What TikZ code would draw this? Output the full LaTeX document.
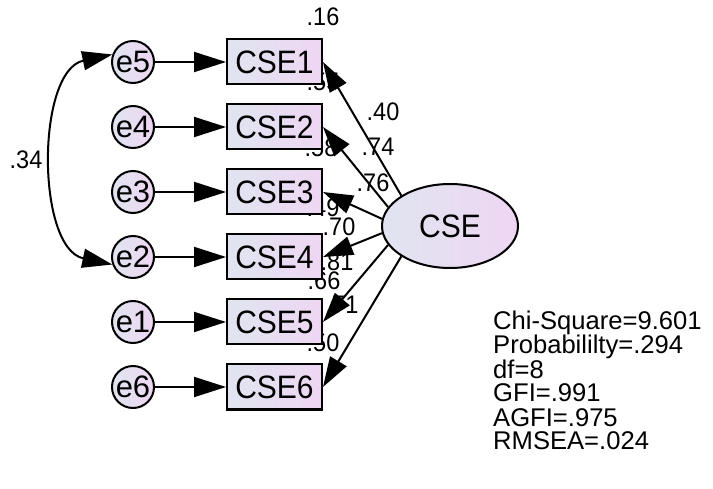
\documentclass[tikz,border=0pt]{standalone}
\usepackage{fontspec}
\setmainfont{Liberation Sans}
\usetikzlibrary{arrows.meta,shapes.geometric}
\definecolor{fillL}{RGB}{224,229,240}
\definecolor{fillR}{RGB}{238,214,243}
% slightly taller lettering
\newcommand\vst[1]{\scalebox{1}[1.08]{#1}}
\begin{document}
\begin{tikzpicture}[x=1pt,y=1pt,
  obs/.style={draw, line width=2pt, rectangle, minimum width=95pt, minimum height=45pt,
    inner sep=0pt, left color=fillL, right color=fillR, font=\fontsize{30}{30}\selectfont},
  err/.style={draw, line width=2pt, circle, minimum size=42pt, inner sep=0pt,
    left color=fillL, right color=fillR, font=\fontsize{31}{31}\selectfont},
  lat/.style={draw, line width=2pt, ellipse, minimum width=136pt, minimum height=84pt,
    inner sep=0pt, left color=fillL, right color=fillR, font=\fontsize{30}{30}\selectfont},
  lbl/.style={font=\fontsize{23.5}{23.5}\selectfont, inner sep=0pt},
  fitline/.style={font=\fontsize{25.6}{25.6}\selectfont, anchor=base west, inner sep=0pt},
  regarrow/.style={line width=2pt, -{Triangle[length=30pt,width=19pt]}},
  errarrow/.style={line width=2pt, -{Triangle[length=32pt,width=20pt]}},
  covarrow/.style={line width=2pt, {Triangle[length=30pt,width=19pt]}-{Triangle[length=30pt,width=19pt]}},
]
\useasboundingbox (0,0) rectangle (713,488);

% squared multiple correlations
\node[lbl] (r1) at (323,471) {\vst{.16}};
\node[lbl] (r2) at (323,406) {\vst{.55}};
\node[lbl] (r3) at (321,340) {\vst{.58}};
\node[lbl] (r4) at (323,280) {\vst{.49}};
\node[lbl] (r5) at (324,207) {\vst{.66}};
\node[lbl] (r6) at (323,145) {\vst{.50}};

% standardized loadings
\node[lbl] (w1) at (383,376) {\vst{.40}};
\node[lbl] (w2) at (378,341) {\vst{.74}};
\node[lbl] (w3) at (373,305) {\vst{.76}};
\node[lbl] (w4) at (339,261) {\vst{.70}};
\node[lbl] (w5) at (337,226) {\vst{.81}};
\node[lbl] (w6) at (342,183) {\vst{.71}};

% covariance label
\node[lbl] (cv) at (26,328) {\vst{.34}};

% observed indicators
\node[obs] (c1) at (274.5,426) {\vst{CSE1}};
\node[obs] (c2) at (274.5,361) {\vst{CSE2}};
\node[obs] (c3) at (274.5,296) {\vst{CSE3}};
\node[obs] (c4) at (274.5,231) {\vst{CSE4}};
\node[obs] (c5) at (274.5,166) {\vst{CSE5}};
\node[obs] (c6) at (274.5,101) {\vst{CSE6}};

% error terms
\node[err] (e5) at (133,426) {e5};
\node[err] (e4) at (133,361) {e4};
\node[err] (e3) at (133,296) {e3};
\node[err] (e2) at (133,231) {e2};
\node[err] (e1) at (133,166) {e1};
\node[err] (e6) at (133,101) {e6};

% latent factor
\node[lat] (cse) at (450,262) {\vst{CSE}};

% error paths
\draw[errarrow] (e5) -- (c1);
\draw[errarrow] (e4) -- (c2);
\draw[errarrow] (e3) -- (c3);
\draw[errarrow] (e2) -- (c4);
\draw[errarrow] (e1) -- (c5);
\draw[errarrow] (e6) -- (c6);

% factor loadings
\draw[regarrow] (cse.148) -- (c1.east);
\draw[regarrow] (cse.163) -- (c2.east);
\draw[regarrow] (cse.174) -- (c3.east);
\draw[regarrow] (cse.186) -- (c4.east);
\draw[regarrow] (cse.197) -- (c5.east);
\draw[regarrow] (cse.212) -- (c6.east);

% error covariance
\draw[covarrow] (e5.160) .. controls +(192:78) and +(168:78) .. (e2.200);

% fit statistics
\node[fitline] (f1) at (493,158) {Chi-Square=9.601};
\node[fitline] (f2) at (493,134) {Probabililty=.294};
\node[fitline] (f3) at (493,110) {df=8};
\node[fitline] (f4) at (493,86)  {GFI=.991};
\node[fitline] (f5) at (493,62)  {AGFI=.975};
\node[fitline] (f6) at (493,38)  {RMSEA=.024};
\end{tikzpicture}
\end{document}
